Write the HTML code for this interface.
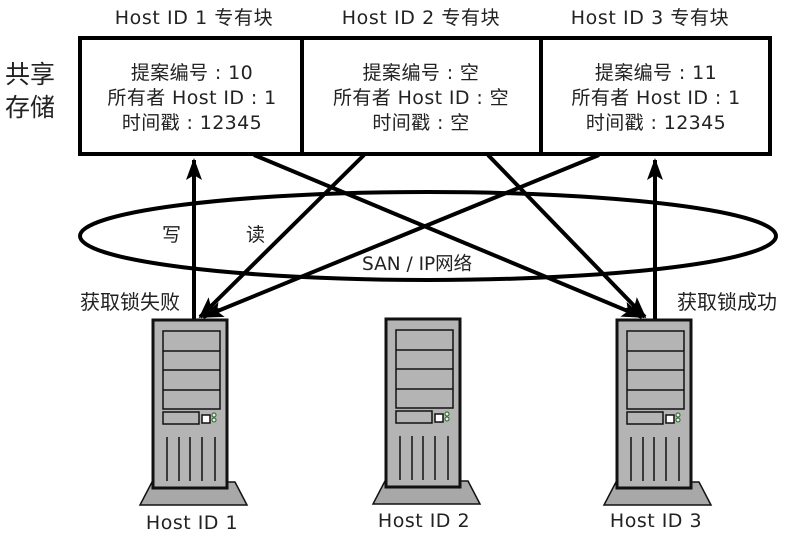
<!DOCTYPE html>
<html><head><meta charset="utf-8"><style>
html,body{margin:0;padding:0;background:#fff;}
svg{display:block;}
text{font-family:"DejaVu Sans","Noto Sans CJK SC",sans-serif;fill:#222;}
</style></head><body>
<svg width="795" height="547" viewBox="0 0 795 547" xmlns="http://www.w3.org/2000/svg">
<defs>
<marker id="ah" markerWidth="5.5" markerHeight="4" refX="5" refY="2" orient="auto" markerUnits="strokeWidth">
<path d="M0,0 L5.5,2 L0,4 L1.2,2 z" fill="#000"/>
</marker>
<g id="srv">
<polygon points="-13,185 94,185 82,162 -1,162" fill="#a8a8a8" stroke="#111" stroke-width="1.5"/>
<rect x="0" y="0" width="74" height="168" fill="#b4b4b4" stroke="#111" stroke-width="3"/>
<rect x="10" y="11" width="57" height="78" fill="#b4b4b4" stroke="#111" stroke-width="1.5"/>
<line x1="10" y1="31" x2="67" y2="31" stroke="#111" stroke-width="1.5"/>
<line x1="10" y1="50" x2="67" y2="50" stroke="#111" stroke-width="1.5"/>
<line x1="10" y1="70" x2="67" y2="70" stroke="#111" stroke-width="1.5"/>
<rect x="10" y="92" width="36" height="12" fill="#b4b4b4" stroke="#111" stroke-width="1.5"/>
<rect x="49" y="95" width="8" height="8" fill="#fff" stroke="#111" stroke-width="1.5"/>
<circle cx="61" cy="95" r="2" fill="#cfc" stroke="#353" stroke-width="1"/>
<circle cx="61" cy="100" r="2" fill="#cfc" stroke="#353" stroke-width="1"/>
<line x1="14" y1="117" x2="14" y2="161" stroke="#111" stroke-width="1.5"/>
<line x1="26" y1="117" x2="26" y2="161" stroke="#111" stroke-width="1.5"/>
<line x1="37" y1="117" x2="37" y2="161" stroke="#111" stroke-width="1.5"/>
<line x1="49" y1="117" x2="49" y2="161" stroke="#111" stroke-width="1.5"/>
<line x1="62" y1="117" x2="62" y2="161" stroke="#111" stroke-width="1.5"/>
</g>
</defs>

<g font-size="19" text-anchor="middle" letter-spacing="0.6">
<text x="194" y="24">Host ID 1 专有块</text>
<text x="421" y="24">Host ID 2 专有块</text>
<text x="650" y="24">Host ID 3 专有块</text>
</g>
<text x="5" y="83" font-size="25">共享</text>
<text x="5" y="116" font-size="25">存储</text>

<rect x="80" y="38" width="690" height="116" fill="#fff" stroke="#000" stroke-width="4"/>
<line x1="302" y1="38" x2="302" y2="154" stroke="#000" stroke-width="4"/>
<line x1="541" y1="38" x2="541" y2="154" stroke="#000" stroke-width="4"/>

<g font-size="19" text-anchor="middle" letter-spacing="0.4">
<text x="192" y="79">提案编号 : 10</text>
<text x="192" y="104">所有者 Host ID : 1</text>
<text x="192" y="129">时间戳 : 12345</text>
<text x="421" y="79">提案编号 : 空</text>
<text x="421" y="104">所有者 Host ID : 空</text>
<text x="421" y="129">时间戳 : 空</text>
<text x="656" y="79">提案编号 : 11</text>
<text x="656" y="104">所有者 Host ID : 1</text>
<text x="656" y="129">时间戳 : 12345</text>
</g>

<ellipse cx="428" cy="236" rx="348" ry="44" fill="none" stroke="#000" stroke-width="4"/>

<g stroke="#000" stroke-width="4" fill="none">
<line x1="194" y1="320" x2="194" y2="160" marker-end="url(#ah)"/>
<line x1="655" y1="320" x2="655" y2="160" marker-end="url(#ah)"/>
<line x1="254" y1="155" x2="642" y2="317" marker-end="url(#ah)"/>
<line x1="488" y1="155" x2="645" y2="317" marker-end="url(#ah)"/>
<line x1="364" y1="155" x2="200" y2="317" marker-end="url(#ah)"/>
<line x1="599" y1="155" x2="203" y2="317" marker-end="url(#ah)"/>
</g>

<text x="162" y="241" font-size="19">写</text>
<text x="246" y="241" font-size="19">读</text>
<text x="362" y="270" font-size="18.5">SAN / IP网络</text>
<text x="80" y="309" font-size="20">获取锁失败</text>
<text x="677" y="309" font-size="20">获取锁成功</text>

<use href="#srv" x="153" y="320"/>
<use href="#srv" x="386" y="319"/>
<use href="#srv" x="617" y="320"/>

<g font-size="19" text-anchor="middle" letter-spacing="0.5">
<text x="192" y="529">Host ID 1</text>
<text x="424" y="527">Host ID 2</text>
<text x="656" y="527">Host ID 3</text>
</g>
</svg>
</body></html>
